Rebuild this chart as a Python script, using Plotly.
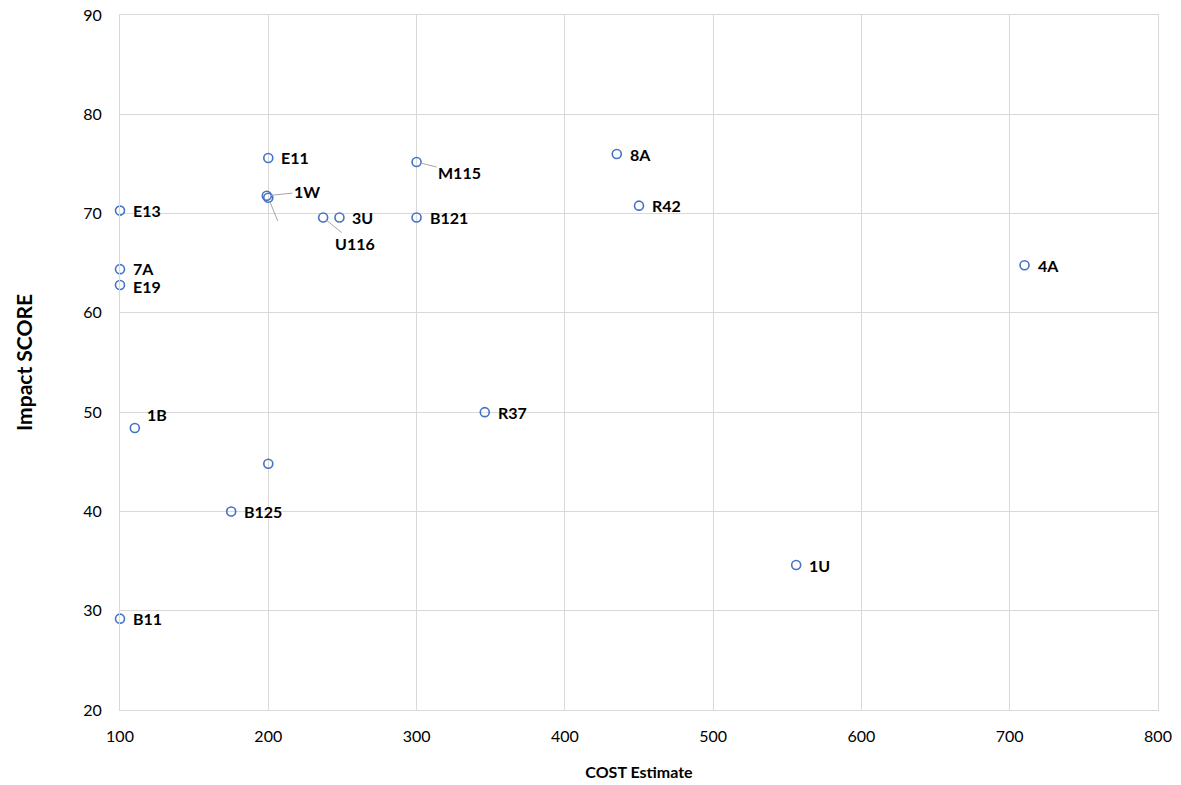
import plotly.graph_objects as go

# ---- data ----
labels = ["E11", "1W", "", "E13", "7A", "E19", "1B", "", "B125", "B11",
          "U116", "3U", "B121", "M115", "8A", "R42", "R37", "4A", "1U"]
cost = [200, 199, 200, 100, 100, 100, 110, 200, 175, 100,
        237, 248, 300, 300, 435, 450, 346, 710, 556]
impact = [75.6, 71.8, 71.6, 70.3, 64.4, 62.8, 48.4, 44.8, 40.0, 29.2,
          69.6, 69.6, 69.6, 75.2, 76.0, 70.8, 50.0, 64.8, 34.6]

x_ticks = [100, 200, 300, 400, 500, 600, 700, 800]
y_ticks = [20, 30, 40, 50, 60, 70, 80, 90]

# ---- styling ----
FONT = "Lato, 'Open Sans', sans-serif"
blue = "#4472C4"
grid = "#D9D9D9"

fig = go.Figure()
fig.add_trace(go.Scatter(
    x=cost, y=impact, mode="markers", cliponaxis=False,
    marker=dict(symbol="circle-open", size=9, color=blue, line=dict(width=1.6, color=blue)),
    hoverinfo="x+y", showlegend=False,
))

# leader-line labels: (ax, ay) pixel offsets of label centre from point
leaders = {1: (40, -4), 2: (13, 32), 10: (32, 26), 13: (43, 11)}
# plain labels: pixel shifts
shift_special = {6: (10, 14), 4: (11, 1), 5: (11, -1)}

annotations = []
for i, (lab, xv, yv) in enumerate(zip(labels, cost, impact)):
    if i in leaders:
        ax, ay = leaders[i]
        annotations.append(dict(
            x=xv, y=yv, xref="x", yref="y", text=f"<b>{lab}</b>" if lab else " ",
            showarrow=True, arrowhead=0, arrowwidth=1, arrowcolor="#A6A6A6",
            ax=ax, ay=ay, standoff=4,
            font=dict(family=FONT, size=16, color="#000000"),
        ))
    elif lab:
        xs, ys = shift_special.get(i, (11, 0))
        annotations.append(dict(
            x=xv, y=yv, xref="x", yref="y", text=f"<b>{lab}</b>",
            showarrow=False, xanchor="left", yanchor="middle",
            xshift=xs, yshift=ys,
            font=dict(family=FONT, size=16, color="#000000"),
        ))

fig.update_layout(
    width=1181, height=785,
    margin=dict(l=120, r=23, t=15, b=75, autoexpand=False),
    paper_bgcolor="white", plot_bgcolor="white",
    font=dict(family=FONT, size=16, color="#000000"),
    annotations=annotations,
    xaxis=dict(
        range=[100, 800], tickvals=x_ticks, showgrid=True, gridcolor=grid, gridwidth=1,
        zeroline=False, showline=True, linecolor=grid, mirror=True, ticks="",
        ticklabelstandoff=12, automargin=False,
        tickfont=dict(family=FONT, size=16, color="#000000"),
        title=dict(text="<b>COST Estimate</b>", font=dict(family=FONT, size=16, color="#000000"), standoff=22),
    ),
    yaxis=dict(
        range=[20, 90], tickvals=y_ticks, showgrid=True, gridcolor=grid, gridwidth=1,
        zeroline=False, showline=True, linecolor=grid, mirror=True, ticks="",
        ticklabelstandoff=14, automargin=False,
        tickfont=dict(family=FONT, size=16, color="#000000"),
        title=dict(text="<b>Impact SCORE</b>", font=dict(family=FONT, size=21, color="#000000"), standoff=44),
    ),
)

fig.write_html("out.html", post_script="document.body.style.margin='0';",
               config={"displayModeBar": False})
